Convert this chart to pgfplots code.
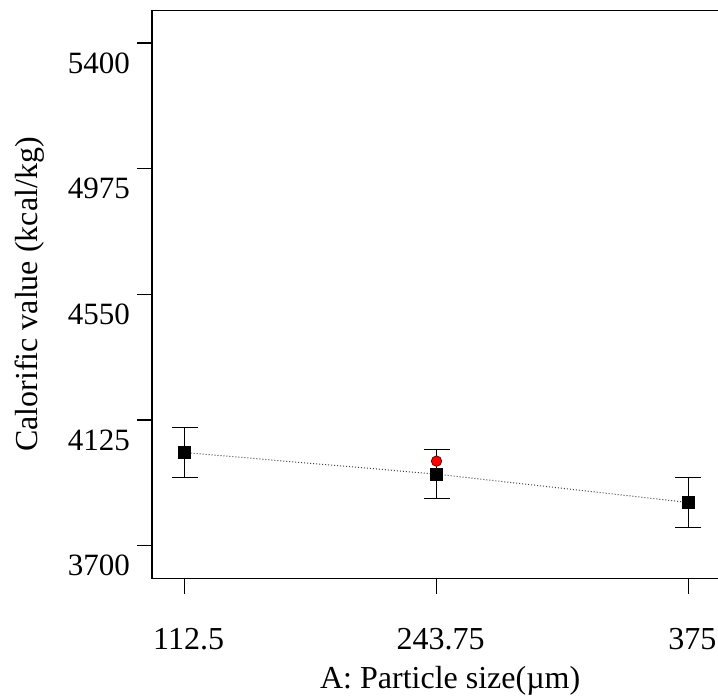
\documentclass[border=0pt]{standalone}
\usepackage{fontspec}
\setmainfont{Liberation Serif}
\usepackage{pgfplots}
\pgfplotsset{compat=1.18}
\begin{document}
\begin{tikzpicture}
\begin{axis}[
  at={(76pt,-289.25pt)}, anchor=south west,
  scale only axis, width=284.5pt, height=283.9pt,
  xmin=95.5, xmax=392, ymin=3589, ymax=5509,
  xtick={112.5,243.75,375}, xticklabels={112.5,243.75,375},
  ytick={3700,4125,4550,4975,5400}, yticklabels={3700,4125,4550,4975,5400},
  xtick pos=bottom, ytick pos=left,
  tick align=outside, major tick length=7.5pt,
  tick style={line width=0.6pt, black},
  axis line style={line width=0.6pt},
  /pgf/number format/assume math mode=true,
  yticklabel style={anchor=east, yshift=-10pt, font=\fontsize{15.5}{18}\selectfont},
  xticklabel style={anchor=north, yshift=-14pt, xshift=2pt, font=\fontsize{16}{19}\selectfont},
  xlabel={A: Particle size(µm)},
  ylabel={Calorific value (kcal/kg)},
  every axis x label/.style={at={(axis description cs:0.524,-0.1937)}, anchor=base, font=\fontsize{16}{19}\selectfont},
  every axis y label/.style={at={(axis description cs:-0.2004,0.5)}, anchor=base, rotate=90, font=\fontsize{16}{19}\selectfont},
  clip=false,
]
\addplot[densely dotted, line width=0.5pt, black!75, no marks] coordinates {(112.5,4015) (243.75,3942) (375,3846)};
\addplot[only marks, mark=square*, mark size=3pt, black,
  error bars/.cd, y dir=both, y explicit,
  error bar style={line width=0.6pt, black},
  error mark options={rotate=90, mark size=6.5pt, line width=0.7pt, black}]
  coordinates {(112.5,4015) +- (0,85) (243.75,3942) +- (0,83) (375,3846) +- (0,84)};
\addplot[only marks, mark=*, mark size=2.6pt, mark options={fill=red, draw=black!60!red, line width=0.4pt}] coordinates {(243.75,3986)};
\end{axis}
\pgfresetboundingbox
\useasboundingbox (0,0) rectangle (359pt,-349pt);
\end{tikzpicture}
\end{document}
